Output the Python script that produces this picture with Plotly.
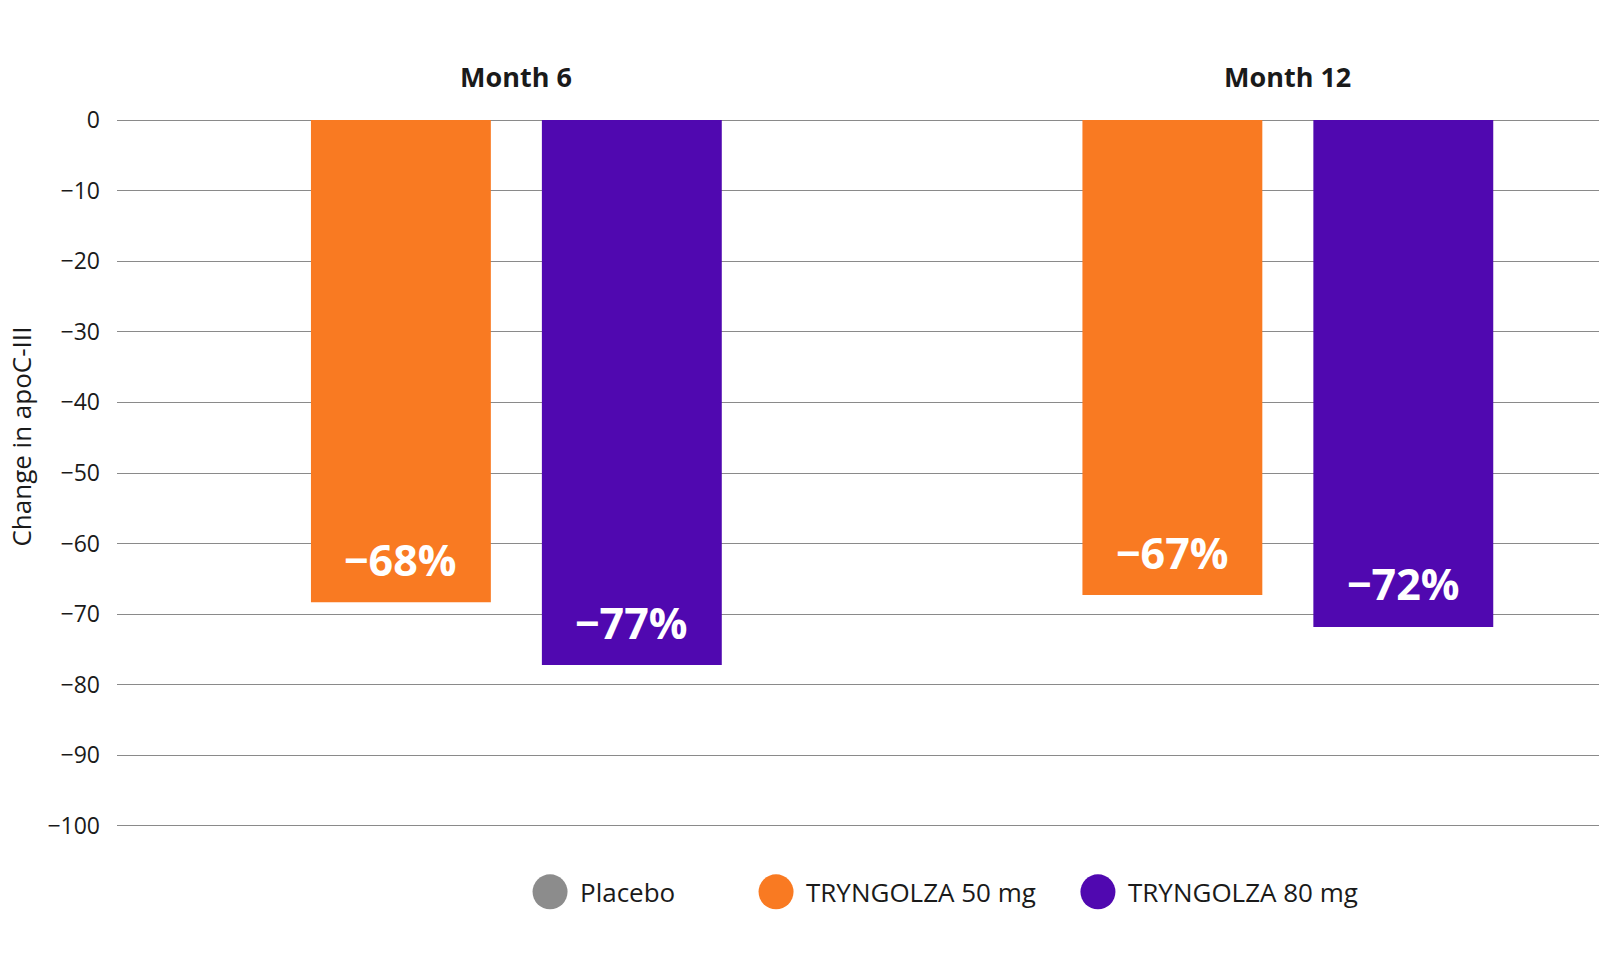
import plotly.graph_objects as go

categories = ["Month 6", "Month 12"]
series_names = ["Placebo", "TRYNGOLZA 50 mg", "TRYNGOLZA 80 mg"]
placebo_vals = [None, None]
tryn50_vals = [-68.3, -67.3]
tryn80_vals = [-77.2, -71.8]
tryn50_labels = ["−68%", "−67%"]
tryn80_labels = ["−77%", "−72%"]
y_ticks = [0, -10, -20, -30, -40, -50, -60, -70, -80, -90, -100]

colors = ["#8C8C8C", "#F97A22", "#5008B0"]
FONT = "Open Sans, Arial, sans-serif"
BARGAP = 0.102
BARGROUPGAP = 0.221
slot = (1 - BARGAP) / 3

fig = go.Figure()
for name, vals, col in zip(series_names, [placebo_vals, tryn50_vals, tryn80_vals], colors):
    fig.add_trace(go.Bar(x=categories, y=vals, name=name, marker=dict(color=col, line=dict(width=0)),
                         showlegend=False, hoverinfo="skip"))

# value labels inside bars
for k, (vals, labs) in enumerate([(tryn50_vals, tryn50_labels), (tryn80_vals, tryn80_labels)]):
    for i, (v, lab) in enumerate(zip(vals, labs)):
        fig.add_annotation(x=i + k * slot, y=v, xref="x", yref="y", text=f"<b>{lab}</b>",
                           showarrow=False, yshift=43, yanchor="middle",
                           font=dict(family=FONT, size=43, color="white"))

# month headers
for i, c in enumerate(categories):
    fig.add_annotation(x=i + slot / 2, y=1, xref="x", yref="paper", text=f"<b>{c}</b>",
                       showarrow=False, yshift=43, yanchor="middle",
                       font=dict(family=FONT, size=27, color="#1a1a1a"))

# y axis title
fig.add_annotation(x=-0.0648, y=0.5514, xref="paper", yref="paper", text="Change in apoC-III",
                   textangle=-90, showarrow=False, xanchor="center", yanchor="middle",
                   font=dict(family=FONT, size=26, color="#1a1a1a"))

# custom legend (circles)
leg_x = [0.2922, 0.4447, 0.6619]
leg_y = -0.0916
for name, col, lx in zip(series_names, colors, leg_x):
    fig.add_shape(type="circle", xref="paper", yref="paper", xsizemode="pixel", ysizemode="pixel",
                  xanchor=lx, yanchor=leg_y, x0=-17.5, x1=17.5, y0=-17.5, y1=17.5,
                  fillcolor=col, line=dict(width=0))
    fig.add_annotation(x=lx, y=leg_y, xref="paper", yref="paper", text=name, showarrow=False,
                       xanchor="left", yanchor="middle", xshift=28,
                       font=dict(family=FONT, size=26, color="#1a1a1a"))

fig.update_layout(
    width=1621, height=962,
    margin=dict(l=117, r=22, t=119, b=135),
    barmode="group", bargap=BARGAP, bargroupgap=BARGROUPGAP,
    plot_bgcolor="white", paper_bgcolor="white",
    font=dict(family=FONT, color="#1a1a1a"),
    showlegend=False,
)
fig.update_xaxes(range=[-0.368, 1.553], showticklabels=False, showgrid=False, zeroline=False, showline=False)
fig.update_yaxes(range=[-100.15, 0.15], tickvals=y_ticks, showgrid=True, gridcolor="#8a8a8a", gridwidth=1,
                 zeroline=False, showline=False, ticklabelstandoff=16,
                 tickfont=dict(family=FONT, size=23, color="#1a1a1a"))

fig.write_html("out.html")
